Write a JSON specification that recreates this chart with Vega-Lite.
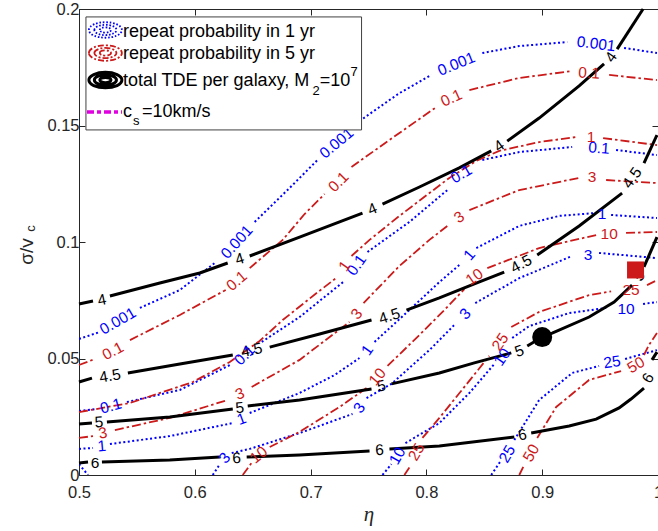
{
  "$schema": "https://vega.github.io/schema/vega-lite/v6.json",
  "width": 579,
  "height": 466,
  "autosize": {"type": "none"},
  "padding": {"left": 79, "top": 9, "right": 0, "bottom": 56},
  "background": "white",
  "config": {
    "view": {"stroke": null},
    "axis": {"grid": false, "labelFont": "Liberation Sans", "labelFontSize": 16.5, "labelColor": "#262626", "domainColor": "#262626", "tickColor": "#262626", "tickSize": -6, "labelFlush": false, "labelOverlap": false, "labelBound": false, "domainWidth": 1, "tickWidth": 1}
  },
  "datasets": {
    "lines": [
      {"c":"k","s":"k4a","x":0.5,"y":0.0734},{"c":"k","s":"k4a","x":0.5121,"y":0.0747},
      {"c":"k","s":"k4b","x":0.5267,"y":0.0768},{"c":"k","s":"k4b","x":0.5698,"y":0.0824},{"c":"k","s":"k4b","x":0.6043,"y":0.0867},{"c":"k","s":"k4b","x":0.6284,"y":0.091},
      {"c":"k","s":"k4c","x":0.6474,"y":0.094},{"c":"k","s":"k4c","x":0.6905,"y":0.1021},{"c":"k","s":"k4c","x":0.725,"y":0.1086},{"c":"k","s":"k4c","x":0.7448,"y":0.1124},
      {"c":"k","s":"k4d","x":0.7621,"y":0.1163},{"c":"k","s":"k4d","x":0.794,"y":0.1236},{"c":"k","s":"k4d","x":0.8284,"y":0.1318},{"c":"k","s":"k4d","x":0.856,"y":0.1391},
      {"c":"k","s":"k4e","x":0.8698,"y":0.1433},{"c":"k","s":"k4e","x":0.8974,"y":0.1532},{"c":"k","s":"k4e","x":0.9319,"y":0.167},{"c":"k","s":"k4e","x":0.9534,"y":0.1764},
      {"c":"k","s":"k4f","x":0.9647,"y":0.1828},{"c":"k","s":"k4f","x":0.9871,"y":0.2},
      {"c":"k","s":"k45a","x":0.5,"y":0.0399},{"c":"k","s":"k45a","x":0.5112,"y":0.0416},
      {"c":"k","s":"k45b","x":0.5422,"y":0.0438},{"c":"k","s":"k45b","x":0.5871,"y":0.0476},{"c":"k","s":"k45b","x":0.6328,"y":0.0515},
      {"c":"k","s":"k45c","x":0.6647,"y":0.0549},{"c":"k","s":"k45c","x":0.7078,"y":0.0605},{"c":"k","s":"k45c","x":0.7526,"y":0.0665},
      {"c":"k","s":"k45d","x":0.7828,"y":0.0708},{"c":"k","s":"k45d","x":0.8112,"y":0.076},{"c":"k","s":"k45d","x":0.8414,"y":0.082},{"c":"k","s":"k45d","x":0.8672,"y":0.0871},
      {"c":"k","s":"k45e","x":0.8957,"y":0.0944},{"c":"k","s":"k45e","x":0.9319,"y":0.1069},{"c":"k","s":"k45e","x":0.969,"y":0.121},
      {"c":"k","s":"k45f","x":0.9879,"y":0.1339},{"c":"k","s":"k45f","x":0.9991,"y":0.1459},
      {"c":"k","s":"k5a","x":0.5,"y":0.0219},{"c":"k","s":"k5a","x":0.5112,"y":0.0223},
      {"c":"k","s":"k5b","x":0.5241,"y":0.0227},{"c":"k","s":"k5b","x":0.5784,"y":0.0249},{"c":"k","s":"k5b","x":0.6328,"y":0.0283},
      {"c":"k","s":"k5c","x":0.6457,"y":0.0296},{"c":"k","s":"k5c","x":0.6905,"y":0.0322},{"c":"k","s":"k5c","x":0.7526,"y":0.0369},
      {"c":"k","s":"k5d","x":0.7698,"y":0.0391},{"c":"k","s":"k5d","x":0.8112,"y":0.0438},{"c":"k","s":"k5d","x":0.8414,"y":0.0481},{"c":"k","s":"k5d","x":0.8733,"y":0.0524},
      {"c":"k","s":"k5e","x":0.8871,"y":0.0554},{"c":"k","s":"k5e","x":0.9,"y":0.0592},{"c":"k","s":"k5e","x":0.9086,"y":0.0609},{"c":"k","s":"k5e","x":0.9405,"y":0.0678},{"c":"k","s":"k5e","x":0.9621,"y":0.0742},{"c":"k","s":"k5e","x":0.9776,"y":0.0815},
      {"c":"k","s":"k5f","x":0.9879,"y":0.0893},{"c":"k","s":"k5f","x":0.9991,"y":0.1021},
      {"c":"k","s":"k6a","x":0.5,"y":0.0052},{"c":"k","s":"k6a","x":0.5078,"y":0.0056},
      {"c":"k","s":"k6b","x":0.5198,"y":0.0056},{"c":"k","s":"k6b","x":0.5784,"y":0.0064},{"c":"k","s":"k6b","x":0.6216,"y":0.0077},
      {"c":"k","s":"k6c","x":0.6448,"y":0.0077},{"c":"k","s":"k6c","x":0.6905,"y":0.0086},{"c":"k","s":"k6c","x":0.7509,"y":0.0103},
      {"c":"k","s":"k6d","x":0.7681,"y":0.0112},{"c":"k","s":"k6d","x":0.8112,"y":0.0124},{"c":"k","s":"k6d","x":0.8759,"y":0.0163},
      {"c":"k","s":"k6e","x":0.8905,"y":0.018},{"c":"k","s":"k6e","x":0.9233,"y":0.021},{"c":"k","s":"k6e","x":0.9466,"y":0.024},{"c":"k","s":"k6e","x":0.9664,"y":0.0288},{"c":"k","s":"k6e","x":0.9767,"y":0.0326},{"c":"k","s":"k6e","x":0.9879,"y":0.0373},
      {"c":"k","s":"k6f","x":0.9948,"y":0.0494},{"c":"k","s":"k6f","x":0.9991,"y":0.0528},

      {"c":"b","s":"b0001a","x":0.5,"y":0.0584},{"c":"b","s":"b0001a","x":0.5181,"y":0.0614},
      {"c":"b","s":"b0001b","x":0.5526,"y":0.0717},{"c":"b","s":"b0001b","x":0.5871,"y":0.0794},{"c":"b","s":"b0001b","x":0.6172,"y":0.091},
      {"c":"b","s":"b0001c","x":0.6517,"y":0.1086},{"c":"b","s":"b0001c","x":0.6819,"y":0.1232},{"c":"b","s":"b0001c","x":0.706,"y":0.1352},
      {"c":"b","s":"b0001d","x":0.7422,"y":0.1519},{"c":"b","s":"b0001d","x":0.7767,"y":0.1639},{"c":"b","s":"b0001d","x":0.8043,"y":0.1717},
      {"c":"b","s":"b0001e","x":0.8483,"y":0.1811},{"c":"b","s":"b0001e","x":0.8802,"y":0.1841},{"c":"b","s":"b0001e","x":0.9216,"y":0.1858},
      {"c":"b","s":"b0001f","x":0.9707,"y":0.1833},{"c":"b","s":"b0001f","x":0.9991,"y":0.1811},
      {"c":"b","s":"b01a","x":0.5,"y":0.0275},{"c":"b","s":"b01a","x":0.5147,"y":0.0283},
      {"c":"b","s":"b01b","x":0.5414,"y":0.0313},{"c":"b","s":"b01b","x":0.5871,"y":0.0365},{"c":"b","s":"b01b","x":0.6319,"y":0.0476},
      {"c":"b","s":"b01c","x":0.6578,"y":0.0571},{"c":"b","s":"b01c","x":0.6905,"y":0.0678},{"c":"b","s":"b01c","x":0.7293,"y":0.0833},
      {"c":"b","s":"b01d","x":0.7491,"y":0.0957},{"c":"b","s":"b01d","x":0.7853,"y":0.1086},{"c":"b","s":"b01d","x":0.8181,"y":0.1223},
      {"c":"b","s":"b01e","x":0.8483,"y":0.1352},{"c":"b","s":"b01e","x":0.8802,"y":0.1386},{"c":"b","s":"b01e","x":0.9259,"y":0.1408},
      {"c":"b","s":"b01f","x":0.9638,"y":0.1395},{"c":"b","s":"b01f","x":0.9991,"y":0.1373},
      {"c":"b","s":"b1a","x":0.5,"y":0.0112},{"c":"b","s":"b1a","x":0.5121,"y":0.0116},
      {"c":"b","s":"b1b","x":0.5267,"y":0.0133},{"c":"b","s":"b1b","x":0.5784,"y":0.0167},{"c":"b","s":"b1b","x":0.6328,"y":0.0223},
      {"c":"b","s":"b1c","x":0.6474,"y":0.0266},{"c":"b","s":"b1c","x":0.6905,"y":0.0352},{"c":"b","s":"b1c","x":0.7207,"y":0.0429},{"c":"b","s":"b1c","x":0.7422,"y":0.0502},
      {"c":"b","s":"b1d","x":0.7552,"y":0.0571},{"c":"b","s":"b1d","x":0.7853,"y":0.0708},{"c":"b","s":"b1d","x":0.8112,"y":0.0828},{"c":"b","s":"b1d","x":0.8284,"y":0.0901},
      {"c":"b","s":"b1e","x":0.8431,"y":0.0974},{"c":"b","s":"b1e","x":0.8802,"y":0.1069},{"c":"b","s":"b1e","x":0.9147,"y":0.1112},{"c":"b","s":"b1e","x":0.9448,"y":0.1124},
      {"c":"b","s":"b1f","x":0.9595,"y":0.1116},{"c":"b","s":"b1f","x":0.9991,"y":0.1103},
      {"c":"b","s":"b3x","x":0.5,"y":0.0047},{"c":"b","s":"b3x","x":0.5078,"y":0.0},
      {"c":"b","s":"b3a","x":0.6155,"y":0.0},{"c":"b","s":"b3a","x":0.6207,"y":0.0039},
      {"c":"b","s":"b3b","x":0.6319,"y":0.0094},{"c":"b","s":"b3b","x":0.6474,"y":0.0112},{"c":"b","s":"b3b","x":0.6905,"y":0.018},{"c":"b","s":"b3b","x":0.7362,"y":0.0262},
      {"c":"b","s":"b3c","x":0.7483,"y":0.033},{"c":"b","s":"b3c","x":0.7698,"y":0.0391},{"c":"b","s":"b3c","x":0.8026,"y":0.0536},{"c":"b","s":"b3c","x":0.8241,"y":0.0644},
      {"c":"b","s":"b3d","x":0.8422,"y":0.0738},{"c":"b","s":"b3d","x":0.8802,"y":0.0845},{"c":"b","s":"b3d","x":0.9259,"y":0.094},
      {"c":"b","s":"b3e","x":0.9491,"y":0.0953},{"c":"b","s":"b3e","x":0.9991,"y":0.0931},
      {"c":"b","s":"b10a","x":0.7621,"y":0.0},{"c":"b","s":"b10a","x":0.7698,"y":0.0047},
      {"c":"b","s":"b10b","x":0.7819,"y":0.0137},{"c":"b","s":"b10b","x":0.8112,"y":0.0223},{"c":"b","s":"b10b","x":0.8371,"y":0.0352},{"c":"b","s":"b10b","x":0.8586,"y":0.0476},
      {"c":"b","s":"b10c","x":0.8741,"y":0.0588},{"c":"b","s":"b10c","x":0.8888,"y":0.0639},{"c":"b","s":"b10c","x":0.9233,"y":0.0695},{"c":"b","s":"b10c","x":0.9552,"y":0.0717},
      {"c":"b","s":"b10d","x":0.9871,"y":0.0734},{"c":"b","s":"b10d","x":0.9991,"y":0.0742},
      {"c":"b","s":"b25a","x":0.856,"y":0.0},{"c":"b","s":"b25a","x":0.8647,"y":0.0064},
      {"c":"b","s":"b25b","x":0.8759,"y":0.015},{"c":"b","s":"b25b","x":0.8974,"y":0.0322},{"c":"b","s":"b25b","x":0.9259,"y":0.0438},{"c":"b","s":"b25b","x":0.9491,"y":0.0468},
      {"c":"b","s":"b25c","x":0.9716,"y":0.0498},{"c":"b","s":"b25c","x":0.9991,"y":0.0536},

      {"c":"r","s":"r01a","x":0.5,"y":0.0472},{"c":"r","s":"r01a","x":0.5138,"y":0.0498},
      {"c":"r","s":"r01b","x":0.544,"y":0.0579},{"c":"r","s":"r01b","x":0.5871,"y":0.0687},{"c":"r","s":"r01b","x":0.6267,"y":0.0794},
      {"c":"r","s":"r01c","x":0.6474,"y":0.0888},{"c":"r","s":"r01c","x":0.6759,"y":0.1009},{"c":"r","s":"r01c","x":0.6948,"y":0.112},{"c":"r","s":"r01c","x":0.7121,"y":0.1206},
      {"c":"r","s":"r01d","x":0.7353,"y":0.1322},{"c":"r","s":"r01d","x":0.7681,"y":0.1438},{"c":"r","s":"r01d","x":0.8086,"y":0.1579},
      {"c":"r","s":"r01e","x":0.8371,"y":0.1652},{"c":"r","s":"r01e","x":0.8802,"y":0.1704},{"c":"r","s":"r01e","x":0.9259,"y":0.1734},
      {"c":"r","s":"r01f","x":0.9578,"y":0.1717},{"c":"r","s":"r01f","x":0.9991,"y":0.1695},
      {"c":"r","s":"r1a","x":0.5,"y":0.027},{"c":"r","s":"r1a","x":0.544,"y":0.0309},{"c":"r","s":"r1a","x":0.5983,"y":0.0399},{"c":"r","s":"r1a","x":0.6302,"y":0.0485},{"c":"r","s":"r1a","x":0.656,"y":0.0575},{"c":"r","s":"r1a","x":0.6759,"y":0.0665},{"c":"r","s":"r1a","x":0.7052,"y":0.0781},{"c":"r","s":"r1a","x":0.7233,"y":0.085},
      {"c":"r","s":"r1b","x":0.7353,"y":0.094},{"c":"r","s":"r1b","x":0.7509,"y":0.1009},{"c":"r","s":"r1b","x":0.7767,"y":0.1112},{"c":"r","s":"r1b","x":0.8026,"y":0.121},{"c":"r","s":"r1b","x":0.8198,"y":0.1275},{"c":"r","s":"r1b","x":0.8431,"y":0.1348},{"c":"r","s":"r1b","x":0.8629,"y":0.1391},{"c":"r","s":"r1b","x":0.8974,"y":0.1429},{"c":"r","s":"r1b","x":0.9302,"y":0.1451},
      {"c":"r","s":"r1c","x":0.9526,"y":0.1446},{"c":"r","s":"r1c","x":0.9991,"y":0.1416},
      {"c":"r","s":"r3a","x":0.5,"y":0.0159},{"c":"r","s":"r3a","x":0.5121,"y":0.0167},
      {"c":"r","s":"r3b","x":0.531,"y":0.0193},{"c":"r","s":"r3b","x":0.5784,"y":0.0245},{"c":"r","s":"r3b","x":0.6284,"y":0.0322},
      {"c":"r","s":"r3c","x":0.6491,"y":0.0378},{"c":"r","s":"r3c","x":0.6905,"y":0.0494},{"c":"r","s":"r3c","x":0.7336,"y":0.0657},
      {"c":"r","s":"r3d","x":0.7457,"y":0.0738},{"c":"r","s":"r3d","x":0.7767,"y":0.0897},{"c":"r","s":"r3d","x":0.8026,"y":0.1009},{"c":"r","s":"r3d","x":0.8181,"y":0.1069},
      {"c":"r","s":"r3e","x":0.8371,"y":0.1137},{"c":"r","s":"r3e","x":0.8802,"y":0.1223},{"c":"r","s":"r3e","x":0.9319,"y":0.1275},
      {"c":"r","s":"r3f","x":0.9552,"y":0.1266},{"c":"r","s":"r3f","x":0.9991,"y":0.1253},
      {"c":"r","s":"r10a","x":0.6414,"y":0.0},{"c":"r","s":"r10a","x":0.6491,"y":0.0052},
      {"c":"r","s":"r10b","x":0.6647,"y":0.012},{"c":"r","s":"r10b","x":0.6905,"y":0.0185},{"c":"r","s":"r10b","x":0.725,"y":0.0292},{"c":"r","s":"r10b","x":0.7483,"y":0.0373},
      {"c":"r","s":"r10c","x":0.7664,"y":0.0468},{"c":"r","s":"r10c","x":0.794,"y":0.0601},{"c":"r","s":"r10c","x":0.8155,"y":0.0708},{"c":"r","s":"r10c","x":0.8328,"y":0.0798},
      {"c":"r","s":"r10d","x":0.8526,"y":0.0888},{"c":"r","s":"r10d","x":0.8974,"y":0.0974},{"c":"r","s":"r10d","x":0.9466,"y":0.103},
      {"c":"r","s":"r10e","x":0.9724,"y":0.1039},{"c":"r","s":"r10e","x":0.9991,"y":0.1043},
      {"c":"r","s":"r25a","x":0.781,"y":0.0},{"c":"r","s":"r25a","x":0.7862,"y":0.0039},
      {"c":"r","s":"r25b","x":0.7966,"y":0.0159},{"c":"r","s":"r25b","x":0.8112,"y":0.0245},{"c":"r","s":"r25b","x":0.8328,"y":0.0378},{"c":"r","s":"r25b","x":0.8543,"y":0.0511},
      {"c":"r","s":"r25c","x":0.8733,"y":0.0635},{"c":"r","s":"r25c","x":0.8974,"y":0.07},{"c":"r","s":"r25c","x":0.9405,"y":0.0772},{"c":"r","s":"r25c","x":0.9595,"y":0.0788},
      {"c":"r","s":"r25d","x":0.9905,"y":0.0815},{"c":"r","s":"r25d","x":0.9991,"y":0.0836},
      {"c":"r","s":"r50a","x":0.8802,"y":0.0},{"c":"r","s":"r50a","x":0.8845,"y":0.0043},
      {"c":"r","s":"r50b","x":0.8957,"y":0.0159},{"c":"r","s":"r50b","x":0.9121,"y":0.0292},{"c":"r","s":"r50b","x":0.9405,"y":0.0408},{"c":"r","s":"r50b","x":0.9681,"y":0.0446},
      {"c":"r","s":"r50c","x":0.9879,"y":0.0515},{"c":"r","s":"r50c","x":0.9922,"y":0.0558},{"c":"r","s":"r50c","x":0.9991,"y":0.0609}
    ],
    "labels": [
      {"c":"k","t":"4","x":0.5198,"y":0.0751,"a":-12},{"c":"k","t":"4","x":0.6388,"y":0.0927,"a":-17},{"c":"k","t":"4","x":0.7534,"y":0.1142,"a":-22},{"c":"k","t":"4","x":0.8629,"y":0.1412,"a":-35},{"c":"k","t":"4","x":0.9595,"y":0.1794,"a":-55},
      {"c":"k","t":"4.5","x":0.5267,"y":0.0425,"a":-10},{"c":"k","t":"4.5","x":0.6491,"y":0.0536,"a":-12},{"c":"k","t":"4.5","x":0.7681,"y":0.0682,"a":-18},{"c":"k","t":"4.5","x":0.8819,"y":0.0906,"a":-28},{"c":"k","t":"4.5","x":0.9776,"y":0.1275,"a":-55},
      {"c":"k","t":"5","x":0.5172,"y":0.0227,"a":-4},{"c":"k","t":"5","x":0.6388,"y":0.0288,"a":-6},{"c":"k","t":"5","x":0.7612,"y":0.0382,"a":-12},{"c":"k","t":"5","x":0.8802,"y":0.0532,"a":-20},{"c":"k","t":"5","x":0.9836,"y":0.0854,"a":-60},
      {"c":"k","t":"6","x":0.5138,"y":0.0052,"a":0},{"c":"k","t":"6","x":0.6362,"y":0.0073,"a":-2},{"c":"k","t":"6","x":0.7595,"y":0.0107,"a":-3},{"c":"k","t":"6","x":0.8828,"y":0.0172,"a":-10},{"c":"k","t":"6","x":0.9914,"y":0.0416,"a":-60},
      {"c":"b","t":"0.001","x":0.5336,"y":0.0661,"a":-30},{"c":"b","t":"0.001","x":0.6362,"y":0.1,"a":-48},{"c":"b","t":"0.001","x":0.7224,"y":0.1425,"a":-40},{"c":"b","t":"0.001","x":0.8259,"y":0.1764,"a":-22},{"c":"b","t":"0.001","x":0.9466,"y":0.185,"a":7},
      {"c":"b","t":"0.1","x":0.5276,"y":0.0296,"a":-15},{"c":"b","t":"0.1","x":0.6431,"y":0.0515,"a":-45},{"c":"b","t":"0.1","x":0.7397,"y":0.0901,"a":-55},{"c":"b","t":"0.1","x":0.8302,"y":0.1292,"a":-30},{"c":"b","t":"0.1","x":0.9491,"y":0.1403,"a":4},
      {"c":"b","t":"1","x":0.5198,"y":0.0124,"a":-5},{"c":"b","t":"1","x":0.6405,"y":0.024,"a":-20},{"c":"b","t":"1","x":0.7491,"y":0.0536,"a":-55},{"c":"b","t":"1","x":0.8371,"y":0.0944,"a":-50},{"c":"b","t":"1","x":0.9517,"y":0.112,"a":0},
      {"c":"b","t":"3","x":0.6259,"y":0.0073,"a":-50},{"c":"b","t":"3","x":0.7422,"y":0.0288,"a":-55},{"c":"b","t":"3","x":0.8336,"y":0.0691,"a":-45},{"c":"b","t":"3","x":0.9397,"y":0.0944,"a":0},
      {"c":"b","t":"10","x":0.775,"y":0.0082,"a":-60},{"c":"b","t":"10","x":0.8655,"y":0.0506,"a":-55},{"c":"b","t":"10","x":0.9724,"y":0.0714,"a":0},
      {"c":"b","t":"25","x":0.8698,"y":0.009,"a":-60},{"c":"b","t":"25","x":0.9603,"y":0.0485,"a":-8},
      {"c":"r","t":"0.1","x":0.5293,"y":0.0532,"a":-28},{"c":"r","t":"0.1","x":0.6362,"y":0.0833,"a":-40},{"c":"r","t":"0.1","x":0.7241,"y":0.1258,"a":-45},{"c":"r","t":"0.1","x":0.8216,"y":0.1618,"a":-25},{"c":"r","t":"0.1","x":0.9405,"y":0.1725,"a":3},
      {"c":"r","t":"1","x":0.7293,"y":0.0897,"a":-55},{"c":"r","t":"1","x":0.9422,"y":0.1451,"a":0},
      {"c":"r","t":"3","x":0.5207,"y":0.018,"a":-10},{"c":"r","t":"3","x":0.6388,"y":0.0348,"a":-20},{"c":"r","t":"3","x":0.7397,"y":0.0691,"a":-50},{"c":"r","t":"3","x":0.8284,"y":0.1107,"a":-35},{"c":"r","t":"3","x":0.9431,"y":0.1279,"a":0},
      {"c":"r","t":"10","x":0.6552,"y":0.0086,"a":-40},{"c":"r","t":"10","x":0.7578,"y":0.0421,"a":-50},{"c":"r","t":"10","x":0.8414,"y":0.085,"a":-35},{"c":"r","t":"10","x":0.9578,"y":0.1034,"a":0},
      {"c":"r","t":"25","x":0.7914,"y":0.0099,"a":-60},{"c":"r","t":"25","x":0.8638,"y":0.0571,"a":-55},{"c":"r","t":"25","x":0.9767,"y":0.0792,"a":0},
      {"c":"r","t":"50","x":0.8905,"y":0.0094,"a":-60},{"c":"r","t":"50","x":0.981,"y":0.0472,"a":-30}
    ]
  },
  "resolve": {"axis": {"x": "independent", "y": "independent"}},
  "layer": [
    {
      "data": {"name": "lines"},
      "transform": [{"filter": "datum.c === 'b'"}],
      "mark": {"type": "line", "stroke": "#0000ff", "strokeWidth": 2, "strokeDash": [2, 2.5], "clip": true},
      "encoding": {
        "x": {"field": "x", "type": "quantitative", "scale": {"domain": [0.5, 1.0], "nice": false, "zero": false},
              "axis": {"orient": "bottom", "values": [0.5, 0.6, 0.7, 0.8, 0.9, 1.0], "format": "~g", "labelPadding": 15, "title": "η", "titleFont": "Liberation Serif", "titleFontStyle": "italic", "titleFontWeight": "normal", "titleFontSize": 21, "titleColor": "#262626", "titlePadding": 3}},
        "y": {"field": "y", "type": "quantitative", "scale": {"domain": [0, 0.2], "nice": false, "zero": false},
              "axis": {"orient": "left", "values": [0, 0.05, 0.1, 0.15, 0.2], "format": "~g", "labelPadding": 6, "title": "σ/v", "titleFont": "Liberation Sans", "titleFontWeight": "normal", "titleFontSize": 19, "titleColor": "#262626", "titleX": -47, "titleY": 242, "titleBaseline": "alphabetic", "titleAngle": 270}},
        "detail": {"field": "s"}
      }
    },
    {
      "data": {"name": "lines"},
      "transform": [{"filter": "datum.c === 'r'"}],
      "mark": {"type": "line", "stroke": "#cc1a1a", "strokeWidth": 1.8, "strokeDash": [9, 3, 2.5, 3]},
      "encoding": {
        "x": {"field": "x", "type": "quantitative", "axis": null},
        "y": {"field": "y", "type": "quantitative", "axis": null},
        "detail": {"field": "s"}
      }
    },
    {
      "data": {"name": "lines"},
      "transform": [{"filter": "datum.c === 'k'"}],
      "mark": {"type": "line", "stroke": "#000000", "strokeWidth": 3},
      "encoding": {
        "x": {"field": "x", "type": "quantitative", "axis": null},
        "y": {"field": "y", "type": "quantitative", "axis": null},
        "detail": {"field": "s"}
      }
    },
    {
      "data": {"name": "labels"},
      "mark": {"type": "text", "font": "Liberation Sans", "fontSize": 15.5, "align": "center", "baseline": "middle"},
      "encoding": {
        "x": {"field": "x", "type": "quantitative", "axis": null},
        "y": {"field": "y", "type": "quantitative", "axis": null},
        "text": {"field": "t"},
        "angle": {"field": "a", "type": "quantitative", "scale": null},
        "color": {"field": "c", "type": "nominal", "scale": {"domain": ["b", "r", "k"], "range": ["#0000ff", "#cc1a1a", "#000000"]}, "legend": null}
      }
    },
    {
      "mark": {"type": "rule", "stroke": "#e000e0", "strokeWidth": 3.5, "strokeDash": [16, 5, 4, 5]},
      "encoding": {"y": {"datum": 0.0532, "type": "quantitative", "axis": null}}
    },
    {
      "data": {"values": [{"x": 0.9, "y": 0.0592}]},
      "mark": {"type": "point", "shape": "circle", "filled": true, "color": "#000000", "size": 400, "opacity": 1},
      "encoding": {
        "x": {"field": "x", "type": "quantitative", "axis": {"orient": "top", "values": [0.5, 0.6, 0.7, 0.8, 0.9, 1.0], "labels": false, "title": null}},
        "y": {"field": "y", "type": "quantitative", "axis": {"orient": "right", "values": [0, 0.05, 0.1, 0.15, 0.2], "labels": false, "title": null}}
      }
    },
    {
      "data": {"values": [{"x": 0.9806, "y": 0.088}]},
      "mark": {"type": "point", "shape": "square", "filled": true, "color": "#cc1a1a", "size": 289, "opacity": 1},
      "encoding": {
        "x": {"field": "x", "type": "quantitative", "axis": null},
        "y": {"field": "y", "type": "quantitative", "axis": null}
      }
    },
    {
      "data": {"values": [{"x": 0.506, "x2": 0.744, "y": 0.1966, "y2": 0.1481}]},
      "mark": {"type": "rect", "fill": "white", "stroke": "#404040", "strokeWidth": 1},
      "encoding": {
        "x": {"field": "x", "type": "quantitative", "axis": null},
        "x2": {"field": "x2"},
        "y": {"field": "y", "type": "quantitative", "axis": null},
        "y2": {"field": "y2"}
      }
    },
    {
      "data": {"values": [{"x": 0.5228, "y": 0.191}]},
      "mark": {"type": "point", "shape": "M-1,0A1,0.47 0 1 1 1,0A1,0.47 0 1 1 -1,0M-0.67,0A0.67,0.31 0 1 1 0.67,0A0.67,0.31 0 1 1 -0.67,0M-0.34,0A0.34,0.16 0 1 1 0.34,0A0.34,0.16 0 1 1 -0.34,0", "filled": false, "stroke": "#0000ff", "strokeWidth": 1.8, "strokeDash": [1.6, 1.8], "size": 1089, "opacity": 1},
      "encoding": {"x": {"field": "x", "type": "quantitative", "axis": null}, "y": {"field": "y", "type": "quantitative", "axis": null}}
    },
    {
      "data": {"values": [{"x": 0.5228, "y": 0.1811}]},
      "mark": {"type": "point", "shape": "M-1,0A1,0.47 0 1 1 1,0A1,0.47 0 1 1 -1,0M-0.67,0A0.67,0.31 0 1 1 0.67,0A0.67,0.31 0 1 1 -0.67,0M-0.34,0A0.34,0.16 0 1 1 0.34,0A0.34,0.16 0 1 1 -0.34,0", "filled": false, "stroke": "#cc1a1a", "strokeWidth": 1.8, "strokeDash": [6, 2, 2, 2], "size": 1089, "opacity": 1},
      "encoding": {"x": {"field": "x", "type": "quantitative", "axis": null}, "y": {"field": "y", "type": "quantitative", "axis": null}}
    },
    {
      "data": {"values": [{"x": 0.5228, "y": 0.1695}]},
      "mark": {"type": "point", "shape": "M-1,0A1,0.47 0 1 1 1,0A1,0.47 0 1 1 -1,0M-0.67,0A0.67,0.31 0 1 1 0.67,0A0.67,0.31 0 1 1 -0.67,0M-0.34,0A0.34,0.16 0 1 1 0.34,0A0.34,0.16 0 1 1 -0.34,0", "filled": false, "stroke": "#000000", "strokeWidth": 3, "size": 1089, "opacity": 1},
      "encoding": {"x": {"field": "x", "type": "quantitative", "axis": null}, "y": {"field": "y", "type": "quantitative", "axis": null}}
    },
    {
      "data": {"values": [{"x": 0.5069, "x2": 0.5371, "y": 0.1558}]},
      "mark": {"type": "rule", "stroke": "#e000e0", "strokeWidth": 3.5, "strokeDash": [7, 3, 4, 3]},
      "encoding": {"x": {"field": "x", "type": "quantitative", "axis": null}, "x2": {"field": "x2"}, "y": {"field": "y", "type": "quantitative", "axis": null}}
    },
    {
      "data": {"values": [
        {"t": "repeat probability in 1 yr", "x": 0.5379, "y": 0.188},
        {"t": "repeat probability in 5 yr", "x": 0.5379, "y": 0.1784},
        {"t": "total TDE per galaxy, M", "x": 0.5379, "y": 0.167},
        {"t": "=10", "x": 0.7078, "y": 0.167},
        {"t": "c", "x": 0.5379, "y": 0.1536},
        {"t": "=10km/s", "x": 0.5543, "y": 0.1536}
      ]},
      "mark": {"type": "text", "font": "Liberation Sans", "fontSize": 18, "align": "left", "baseline": "alphabetic", "color": "#000000"},
      "encoding": {"x": {"field": "x", "type": "quantitative", "axis": null}, "y": {"field": "y", "type": "quantitative", "axis": null}, "text": {"field": "t"}}
    },
    {
      "data": {"values": [
        {"t": "2", "x": 0.7017, "y": 0.1631},
        {"t": "7", "x": 0.7345, "y": 0.1712},
        {"t": "s", "x": 0.5466, "y": 0.1502}
      ]},
      "mark": {"type": "text", "font": "Liberation Sans", "fontSize": 13, "align": "left", "baseline": "alphabetic", "color": "#000000"},
      "encoding": {"x": {"field": "x", "type": "quantitative", "axis": null}, "y": {"field": "y", "type": "quantitative", "axis": null}, "text": {"field": "t"}}
    },
    {
      "data": {"values": [{"t": "c", "x": 0.5, "y": 0.1058}]},
      "mark": {"type": "text", "font": "Liberation Sans", "fontSize": 13, "align": "center", "baseline": "middle", "angle": 270, "color": "#262626", "xOffset": -48},
      "encoding": {"x": {"field": "x", "type": "quantitative", "axis": null}, "y": {"field": "y", "type": "quantitative", "axis": null}, "text": {"field": "t"}}
    }
  ]
}
